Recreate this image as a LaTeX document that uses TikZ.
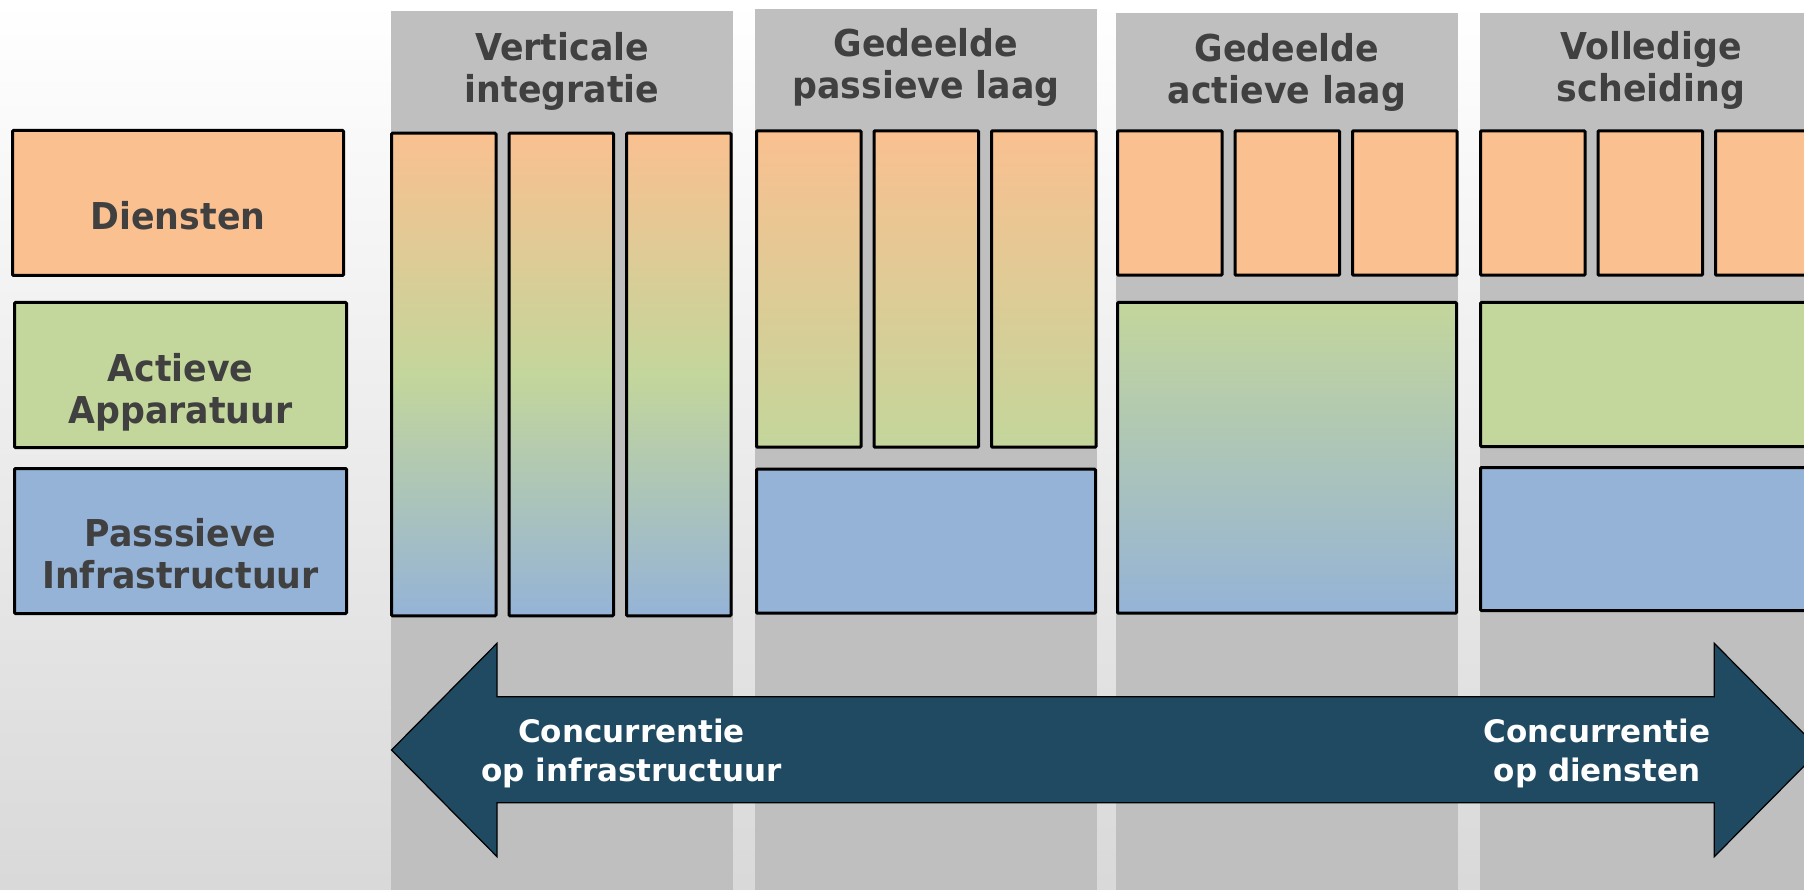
\documentclass[tikz,border=0pt]{standalone}
\usepackage{fontspec}
\setmainfont{DejaVu Sans}
\newfontfamily\smalfont{DejaVu Sans}[FakeStretch=0.94]
\usepackage{tikz}
\usetikzlibrary{positioning}

\definecolor{oranje}{HTML}{FAC090}
\definecolor{groen}{HTML}{C3D69B}
\definecolor{blauw}{HTML}{95B3D7}
\definecolor{kolom}{HTML}{BFBFBF}
\definecolor{tekst}{HTML}{404040}
\definecolor{pijl}{HTML}{1F4A62}

\tikzset{
    blok/.style={draw=black, line width=3pt, rounded corners=1pt, inner sep=0pt, outer sep=0pt},
    smal/.style={blok, minimum width=104.5pt},
    breed/.style={blok, minimum width=339pt},
    kop/.style={text=tekst, font=\smalfont\bfseries\fontsize{37}{42}\selectfont, align=center, anchor=base, inner sep=0pt},
    laag/.style={kop},
    pijltekst/.style={text=white, font=\bfseries\fontsize{31}{39}\selectfont, align=center, anchor=base, inner sep=0pt},
}

\begin{document}
\begin{tikzpicture}[x=1pt, y=-1pt]
    \useasboundingbox (0,0) rectangle (1804,890);
    \clip (0,0) rectangle (1804,890);
    \shade[top color=white, bottom color=black!15] (0,0) rectangle (1804,890);

    \fill[kolom] (391,11) rectangle (733,890);
    \fill[kolom] (755,9) rectangle (1097,890);
    \fill[kolom] (1116,13) rectangle (1458,890);
    \fill[kolom] (1480,13) rectangle (1822,890);

    \node[kop] (kop1) at (562,103) {Verticale\\integratie};
    \node[kop] (kop2) at (926,99) {Gedeelde\\passieve laag};
    \node[kop] (kop3) at (1287,104) {Gedeelde\\actieve laag};
    \node[kop] (kop4) at (1651,102) {Volledige\\scheiding};

    \node[blok, fill=oranje, minimum width=331pt, minimum height=145pt] (dien) at (178,203) {};
    \node[blok, fill=groen, minimum width=332pt, minimum height=145pt] (act) at (180.5,375) {};
    \node[blok, fill=blauw, minimum width=332pt, minimum height=145pt] (pas) at (180.5,541) {};
    \node[laag] (dien-t) at (178,230) {Diensten};
    \node[laag] (act-t) at (180.5,423) {Actieve\\Apparatuur};
    \node[laag] (pas-t) at (180.5,588) {Passsieve\\Infrastructuur};

    \node[smal, minimum height=482.6pt, top color=oranje, bottom color=blauw, middle color=groen, anchor=north west] (vi1) at (391.5,133.2) {};
    \node[smal, minimum height=482.6pt, top color=oranje, bottom color=blauw, middle color=groen, right=13pt of vi1] (vi2) {};
    \node[smal, minimum height=482.6pt, top color=oranje, bottom color=blauw, middle color=groen, right=13pt of vi2] (vi3) {};

    \node[smal, minimum height=316.4pt, top color=oranje, bottom color=groen, anchor=north west] (gp1) at (756.5,130.8) {};
    \node[smal, minimum height=316.4pt, top color=oranje, bottom color=groen, right=13pt of gp1] (gp2) {};
    \node[smal, minimum height=316.4pt, top color=oranje, bottom color=groen, right=13pt of gp2] (gp3) {};
    \node[breed, minimum height=144pt, fill=blauw, anchor=north west] (gp-pas) at (756.5,469.2) {};

    \node[smal, minimum height=144.4pt, fill=oranje, anchor=north west] (ga1) at (1117.5,130.8) {};
    \node[smal, minimum height=144.4pt, fill=oranje, right=13pt of ga1] (ga2) {};
    \node[smal, minimum height=144.4pt, fill=oranje, right=13pt of ga2] (ga3) {};
    \node[breed, minimum height=310.7pt, top color=groen, bottom color=blauw, anchor=north west] (ga-act) at (1117.5,302.5) {};

    \node[smal, minimum height=144.4pt, fill=oranje, anchor=north west] (vs1) at (1480.5,130.8) {};
    \node[smal, minimum height=144.4pt, fill=oranje, right=13pt of vs1] (vs2) {};
    \node[smal, minimum height=144.4pt, fill=oranje, right=13pt of vs2] (vs3) {};
    \node[breed, minimum height=144pt, fill=groen, anchor=north west] (vs-act) at (1480.5,302.5) {};
    \node[breed, minimum height=143pt, fill=blauw, anchor=north west] (vs-pas) at (1480.5,467.5) {};

    \draw[fill=pijl, draw=black, line width=1.2pt] (391.5,750) -- (497,643.3) -- (497,696.7) -- (1714.3,696.7) -- (1714.3,643.3) -- (1820,750) -- (1714.3,856.7) -- (1714.3,802.7) -- (497,802.7) -- (497,856.7) -- cycle;

    \node[pijltekst] (infra) at (631.5,781.7) {Concurrentie\\op infrastructuur};
    \node[pijltekst] (dienst) at (1597,781.7) {Concurrentie\\op diensten};
\end{tikzpicture}
\end{document}
